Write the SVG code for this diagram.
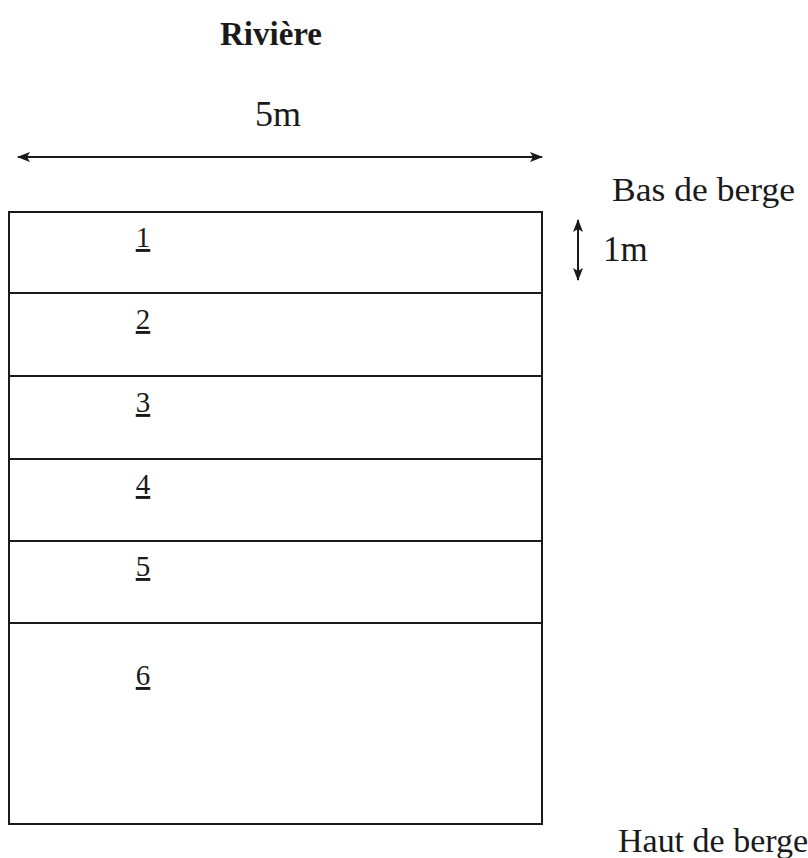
<svg xmlns="http://www.w3.org/2000/svg" width="808" height="858" viewBox="0 0 808 858">
<defs>
<marker id="ah" markerWidth="13" markerHeight="10" refX="12" refY="5" orient="auto-start-reverse" markerUnits="userSpaceOnUse">
<path d="M0,0 L13,5 L0,10 L3,5 Z" fill="#1a1a1a"/>
</marker>
<style>
.t{font-family:"Liberation Serif","Times New Roman",serif;fill:#1a1a1a}
.n{font-size:29px;text-decoration:underline;text-anchor:middle}
.ln{stroke:#1a1a1a;stroke-width:2;fill:none}
</style>
</defs>
<rect width="808" height="858" fill="#fff"/>
<g id="title"><text class="t" x="271" y="45" font-size="33" font-weight="bold" text-anchor="middle">Rivière</text></g>
<g id="width-label"><text class="t" x="278" y="126" font-size="36" text-anchor="middle">5m</text></g>
<g id="bas"><text class="t" x="612" y="201" font-size="34" textLength="183" lengthAdjust="spacingAndGlyphs">Bas de berge</text></g>
<g id="onem"><text class="t" x="603" y="261" font-size="35">1m</text></g>
<g id="haut"><text class="t" x="618" y="852" font-size="34" textLength="190" lengthAdjust="spacingAndGlyphs">Haut de berge</text></g>
<g id="connectors">
<line class="ln" x1="18" y1="157" x2="542" y2="157" marker-start="url(#ah)" marker-end="url(#ah)"/>
<line class="ln" x1="578" y1="220" x2="578" y2="280" marker-start="url(#ah)" marker-end="url(#ah)"/>
</g>
<g id="zones">
<rect class="ln" x="9" y="212" width="533" height="612"/>
<line class="ln" x1="9" y1="293" x2="542" y2="293"/>
<line class="ln" x1="9" y1="376" x2="542" y2="376"/>
<line class="ln" x1="9" y1="459" x2="542" y2="459"/>
<line class="ln" x1="9" y1="541" x2="542" y2="541"/>
<line class="ln" x1="9" y1="623" x2="542" y2="623"/>
</g>
<g id="z1"><text class="t n" x="143" y="247">1</text></g>
<g id="z2"><text class="t n" x="143" y="329">2</text></g>
<g id="z3"><text class="t n" x="143" y="412">3</text></g>
<g id="z4"><text class="t n" x="143" y="494">4</text></g>
<g id="z5"><text class="t n" x="143" y="576">5</text></g>
<g id="z6"><text class="t n" x="143" y="685">6</text></g>
</svg>
